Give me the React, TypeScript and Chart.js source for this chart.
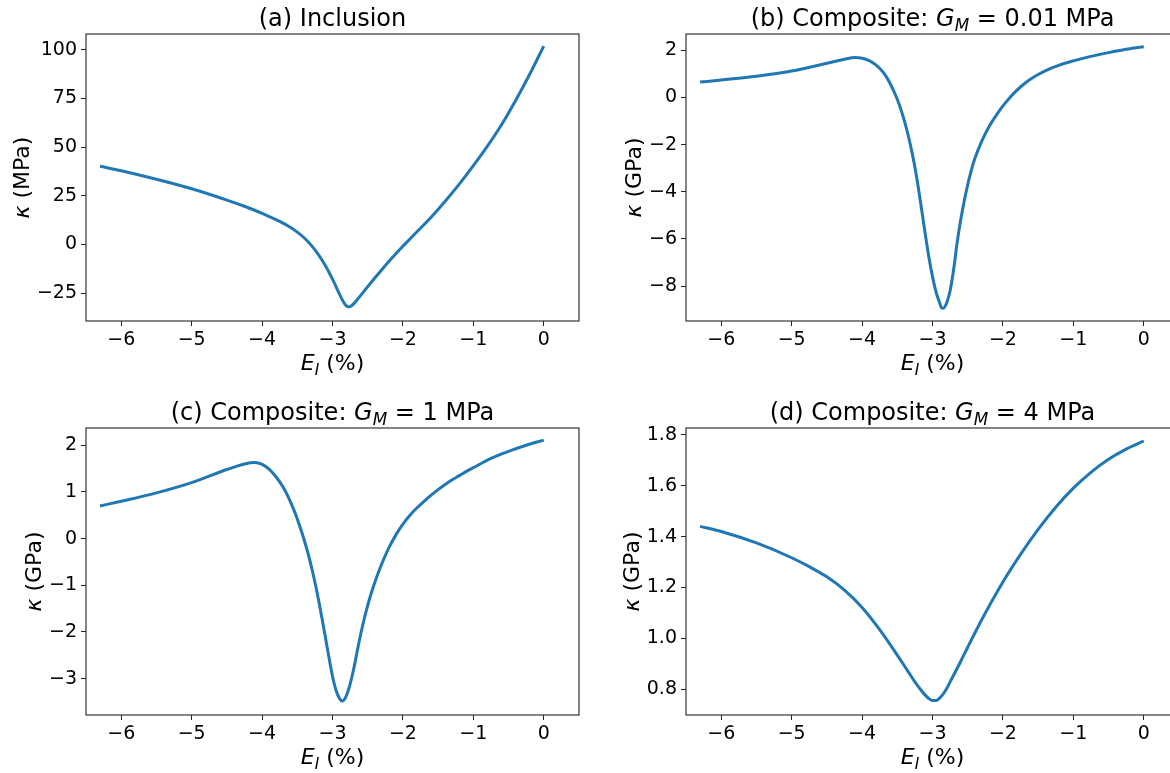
import React, { useEffect, useRef } from "react";
import { Chart, registerables } from "chart.js";
Chart.register(...registerables);

// ---------- data ----------
const inclusionX = [-6.3, -6.0, -5.5, -5.0, -4.5, -4.25, -4.0, -3.75, -3.6, -3.5, -3.4, -3.3, -3.2, -3.1, -3.05, -3.0, -2.95, -2.9, -2.85, -2.82, -2.79, -2.76, -2.73, -2.7, -2.65, -2.6, -2.5, -2.4, -2.3, -2.2, -2.1, -2.0, -1.9, -1.8, -1.6, -1.4, -1.2, -1.0, -0.8, -0.6, -0.4, -0.2, 0.0];
const inclusionKappa = [40.2, 37.9, 33.5, 28.6, 22.8, 19.6, 16, 11.8, 8.8, 6.3, 3.3, -0.5, -5.3, -11, -14.3, -17.9, -21.7, -25.6, -29.2, -30.9, -31.9, -32.1, -31.6, -30.6, -28.5, -26.2, -21.7, -17.3, -13.0, -8.8, -4.8, -0.9, 2.8, 6.5, 14.0, 22.2, 31, 40.5, 50.5, 61.5, 74, 87.5, 102];

const compSoftX = [-6.3, -6.0, -5.5, -5.0, -4.5, -4.25, -4.1, -4.0, -3.9, -3.8, -3.7, -3.65, -3.6, -3.55, -3.5, -3.45, -3.4, -3.35, -3.3, -3.25, -3.2, -3.15, -3.1, -3.05, -3.0, -2.95, -2.9, -2.87, -2.85, -2.8, -2.75, -2.7, -2.65, -2.6, -2.55, -2.5, -2.45, -2.4, -2.3, -2.2, -2.1, -2.0, -1.9, -1.8, -1.7, -1.6, -1.5, -1.4, -1.2, -1.0, -0.75, -0.5, -0.25, 0.0];
const compSoftKappa = [0.65, 0.74, 0.9, 1.12, 1.45, 1.62, 1.69, 1.66, 1.56, 1.37, 1.07, 0.85, 0.58, 0.27, -0.08, -0.5, -0.98, -1.55, -2.2, -2.95, -3.85, -4.85, -5.85, -6.8, -7.6, -8.25, -8.7, -8.93, -8.94, -8.72, -8.2, -7.3, -6.15, -5.2, -4.4, -3.7, -3.1, -2.6, -1.85, -1.25, -0.78, -0.36, 0.0, 0.31, 0.57, 0.79, 0.97, 1.13, 1.37, 1.55, 1.74, 1.9, 2.04, 2.15];

const compMidX = [-6.3, -6.0, -5.5, -5.0, -4.5, -4.25, -4.1, -4.0, -3.9, -3.8, -3.7, -3.6, -3.55, -3.5, -3.45, -3.4, -3.35, -3.3, -3.25, -3.2, -3.15, -3.1, -3.05, -3.0, -2.95, -2.9, -2.86, -2.82, -2.78, -2.75, -2.7, -2.65, -2.6, -2.55, -2.5, -2.45, -2.4, -2.3, -2.2, -2.1, -2.0, -1.9, -1.8, -1.7, -1.6, -1.5, -1.4, -1.3, -1.2, -1.1, -1.0, -0.75, -0.5, -0.25, 0.0];
const compMidKappa = [0.70, 0.80, 0.98, 1.2, 1.48, 1.60, 1.63, 1.59, 1.49, 1.32, 1.1, 0.8, 0.62, 0.42, 0.2, -0.04, -0.3, -0.6, -0.93, -1.3, -1.7, -2.12, -2.55, -2.95, -3.25, -3.43, -3.48, -3.42, -3.27, -3.12, -2.8, -2.42, -2.05, -1.72, -1.43, -1.17, -0.94, -0.54, -0.2, 0.08, 0.31, 0.5, 0.66, 0.8, 0.93, 1.05, 1.16, 1.26, 1.35, 1.44, 1.52, 1.72, 1.87, 2.0, 2.11];

const compStiffX = [-6.3, -6.0, -5.5, -5.0, -4.75, -4.5, -4.25, -4.0, -3.75, -3.5, -3.35, -3.25, -3.15, -3.1, -3.05, -3.0, -2.95, -2.9, -2.85, -2.8, -2.75, -2.6, -2.5, -2.25, -2.0, -1.75, -1.5, -1.25, -1.0, -0.75, -0.5, -0.25, 0.0];
const compStiffKappa = [1.44, 1.42, 1.375, 1.317, 1.282, 1.242, 1.19, 1.122, 1.035, 0.935, 0.872, 0.83, 0.793, 0.777, 0.764, 0.757, 0.757, 0.766, 0.782, 0.803, 0.83, 0.91, 0.966, 1.1, 1.222, 1.33, 1.428, 1.515, 1.59, 1.652, 1.703, 1.743, 1.775];

const xTicks = [-6, -5, -4, -3, -2, -1, 0];
const xLimits = [-6.5, 0.5];
const yTicksA = [-25, 0, 25, 50, 75, 100];
const yTicksB = [-8, -6, -4, -2, 0, 2];
const yTicksC = [-3, -2, -1, 0, 1, 2];
const yTicksD = [0.8, 1.0, 1.2, 1.4, 1.6, 1.8];
const yLimA = [-39.4, 108.2];
const yLimB = [-9.48, 2.69];
const yLimC = [-3.78, 2.37];
const yLimD = [0.70, 1.826];

type Seg = { t: string; it?: boolean; sub?: boolean };
const titleA: Seg[] = [{ t: "(a) Inclusion" }];
const titleB: Seg[] = [{ t: "(b) Composite: " }, { t: "G", it: true }, { t: "M", it: true, sub: true }, { t: " = 0.01" }, { t: " MPa" }];
const titleC: Seg[] = [{ t: "(c) Composite: " }, { t: "G", it: true }, { t: "M", it: true, sub: true }, { t: " = 1" }, { t: " MPa" }];
const titleD: Seg[] = [{ t: "(d) Composite: " }, { t: "G", it: true }, { t: "M", it: true, sub: true }, { t: " = 4" }, { t: " MPa" }];
const xLabel: Seg[] = [{ t: "E", it: true }, { t: "I", it: true, sub: true }, { t: " (%)" }];
const yLabelMPa: Seg[] = [{ t: "κ", it: true }, { t: " (MPa)" }];
const yLabelGPa: Seg[] = [{ t: "κ", it: true }, { t: " (GPa)" }];

// ---------- drawing helpers ----------
const FAMILY = "'DejaVu Sans', 'Liberation Sans', sans-serif";
const TICK_SIZE = 19;
const LABEL_SIZE = 22;
const TITLE_SIZE = 24;

function segFont(s: Seg, size: number) {
  const sz = s.sub ? size * 0.7 : size;
  return `${s.it ? "italic " : ""}${sz}px ${FAMILY}`;
}

function drawRich(ctx: CanvasRenderingContext2D, segs: Seg[], size: number, x: number, y: number, rotate: boolean) {
  ctx.save();
  ctx.translate(x, y);
  if (rotate) ctx.rotate(-Math.PI / 2);
  ctx.textAlign = "left";
  ctx.textBaseline = "alphabetic";
  ctx.fillStyle = "#000";
  let total = 0;
  const widths = segs.map((s) => {
    ctx.font = segFont(s, size);
    const w = ctx.measureText(s.t).width;
    total += w;
    return w;
  });
  let cx = -total / 2;
  segs.forEach((s, i) => {
    ctx.font = segFont(s, size);
    ctx.fillText(s.t, cx, s.sub ? size * 0.22 : 0);
    cx += widths[i];
  });
  ctx.restore();
}

function fmt(v: number, dec: number) {
  const s = dec > 0 ? v.toFixed(dec) : String(Math.round(v));
  return s.replace("-", "\u2212");
}

type PanelCfg = {
  left: number; top: number; w: number; h: number;
  area: { l: number; t: number; r: number; b: number };
  xs: number[]; ys: number[];
  yTicks: number[]; yLim: number[]; dec: number;
  title: Seg[]; yLabel: Seg[];
};

function Panel({ cfg }: { cfg: PanelCfg }) {
  const ref = useRef<HTMLCanvasElement>(null);
  useEffect(() => {
    const canvas = ref.current!;
    const a = cfg.area;
    const deco = {
      id: "deco",
      afterDraw(chart: any) {
        const ctx = chart.ctx as CanvasRenderingContext2D;
        const ca = chart.chartArea;
        ctx.save();
        ctx.strokeStyle = "#222";
        ctx.lineWidth = 1.1;
        ctx.strokeRect(ca.left, ca.top, ca.right - ca.left, ca.bottom - ca.top);
        const cx = (ca.left + ca.right) / 2;
        drawRich(ctx, cfg.title, TITLE_SIZE, cx, ca.top - 8, false);
        drawRich(ctx, xLabel, LABEL_SIZE, cx, ca.bottom + 49, false);
        ctx.font = `${TICK_SIZE}px ${FAMILY}`;
        let widest = 0;
        cfg.yTicks.forEach((v) => {
          widest = Math.max(widest, ctx.measureText(fmt(v, cfg.dec)).width);
        });
        const rightEdge = ca.left - 5 - 4 - widest - 5.5;
        const baseX = rightEdge - 0.1 * LABEL_SIZE;
        drawRich(ctx, cfg.yLabel, LABEL_SIZE, baseX, (ca.top + ca.bottom) / 2, true);
        ctx.restore();
      },
    };
    const tickFont = { family: FAMILY, size: TICK_SIZE };
    const chart = new Chart(canvas, {
      type: "line",
      data: {
        datasets: [
          {
            data: cfg.xs.map((x, i) => ({ x, y: cfg.ys[i] })),
            borderColor: "#1f77b4",
            borderWidth: 3,
            pointRadius: 0,
            cubicInterpolationMode: "monotone",
            fill: false,
          } as any,
        ],
      },
      options: {
        responsive: false,
        animation: false,
        devicePixelRatio: 1,
        layout: { padding: { left: 0, top: a.t, right: cfg.w - a.r, bottom: 0 } },
        plugins: { legend: { display: false }, tooltip: { enabled: false }, title: { display: false } },
        scales: {
          x: {
            type: "linear",
            min: xLimits[0],
            max: xLimits[1],
            afterBuildTicks: (s: any) => { s.ticks = xTicks.map((v) => ({ value: v })); },
            afterFit: (s: any) => { s.height = cfg.h - a.b; },
            grid: { drawOnChartArea: false, drawTicks: true, tickLength: 5, color: "#222", lineWidth: 1 },
            border: { display: false },
            ticks: { color: "#000", font: tickFont, padding: 3, maxRotation: 0, autoSkip: false, callback: (v: any) => fmt(Number(v), 0) },
          },
          y: {
            type: "linear",
            min: cfg.yLim[0],
            max: cfg.yLim[1],
            afterBuildTicks: (s: any) => { s.ticks = cfg.yTicks.map((v) => ({ value: v })); },
            afterFit: (s: any) => { s.width = a.l; },
            grid: { drawOnChartArea: false, drawTicks: true, tickLength: 5, color: "#222", lineWidth: 1 },
            border: { display: false },
            ticks: { color: "#000", font: tickFont, padding: 4, autoSkip: false, callback: (v: any) => fmt(Number(v), cfg.dec) },
          },
        },
      } as any,
      plugins: [deco],
    });
    return () => chart.destroy();
  }, []);
  return (
    <canvas
      ref={ref}
      width={cfg.w}
      height={cfg.h}
      style={{ position: "absolute", left: cfg.left, top: cfg.top, width: cfg.w, height: cfg.h }}
    />
  );
}

const panels: PanelCfg[] = [
  { left: 0, top: 0, w: 585, h: 386, area: { l: 86, t: 34, r: 579, b: 321 }, xs: inclusionX, ys: inclusionKappa, yTicks: yTicksA, yLim: yLimA, dec: 0, title: titleA, yLabel: yLabelMPa },
  { left: 585, top: 0, w: 600, h: 386, area: { l: 101, t: 34, r: 594, b: 321 }, xs: compSoftX, ys: compSoftKappa, yTicks: yTicksB, yLim: yLimB, dec: 0, title: titleB, yLabel: yLabelGPa },
  { left: 0, top: 386, w: 585, h: 387, area: { l: 86, t: 42, r: 579, b: 329 }, xs: compMidX, ys: compMidKappa, yTicks: yTicksC, yLim: yLimC, dec: 0, title: titleC, yLabel: yLabelGPa },
  { left: 585, top: 386, w: 600, h: 387, area: { l: 101, t: 42, r: 594, b: 329 }, xs: compStiffX, ys: compStiffKappa, yTicks: yTicksD, yLim: yLimD, dec: 1, title: titleD, yLabel: yLabelGPa },
];

export default function App() {
  return (
    <div style={{ position: "absolute", left: 0, top: 0, width: 1170, height: 773, overflow: "hidden", background: "#fff" }}>
      {panels.map((p, i) => (
        <Panel key={i} cfg={p} />
      ))}
    </div>
  );
}
